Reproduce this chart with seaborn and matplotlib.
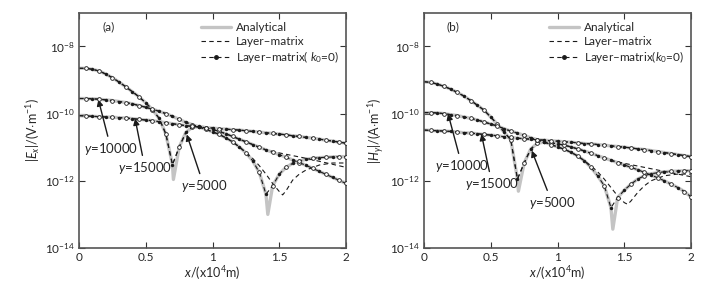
import numpy as np
import seaborn as sns
from matplotlib import pyplot as plt
from matplotlib.lines import Line2D

sns.set_theme(style='ticks')
plt.rcParams['font.family'] = ['Lato', 'DejaVu Sans']
plt.rcParams['mathtext.fontset'] = 'custom'
plt.rcParams['mathtext.rm'] = 'Lato'
plt.rcParams['mathtext.it'] = 'Lato:italic'
plt.rcParams['mathtext.bf'] = 'Lato:bold'

# x positions (x10^4 m), step 0.05
x_grid = np.linspace(0, 2, 41)

# log10 of |Ex| (panel a)
ex_y5000 = [-8.65, -8.65, -8.68, -8.73, -8.82, -8.93, -9.06, -9.2, -9.35, -9.5,
            -9.68, -9.88, -10.14, -10.6, -11.52, -11.0, -10.56, -10.4, -10.38, -10.42,
            -10.47, -10.53, -10.6, -10.68, -10.76, -10.84, -10.92, -11.0, -11.08, -11.15,
            -11.22, -11.3, -11.38, -11.46, -11.54, -11.63, -11.72, -11.81, -11.9, -11.99, -12.08]
ex_y10000 = [-9.55, -9.55, -9.56, -9.57, -9.59, -9.61, -9.64, -9.67, -9.71, -9.76,
             -9.81, -9.87, -9.93, -10.0, -10.08, -10.17, -10.26, -10.33, -10.4, -10.47,
             -10.54, -10.62, -10.72, -10.84, -10.99, -11.17, -11.4, -11.75, -12.4, -12.15,
             -11.8, -11.6, -11.48, -11.41, -11.36, -11.33, -11.31, -11.3, -11.29, -11.28, -11.28]
ex_y15000 = [-10.06, -10.07, -10.08, -10.09, -10.1, -10.11, -10.12, -10.13, -10.15, -10.17,
             -10.19, -10.21, -10.24, -10.27, -10.3, -10.33, -10.36, -10.38, -10.4, -10.42,
             -10.43, -10.45, -10.46, -10.48, -10.49, -10.51, -10.53, -10.55, -10.57, -10.59,
             -10.61, -10.63, -10.66, -10.68, -10.71, -10.73, -10.76, -10.79, -10.82, -10.85, -10.88]
# analytical minima
ex_dip_x = [0.707, 1.414]
ex_dip = [-11.96, -13.0]
# layer-matrix where it leaves the analytical curve
ex_lm5_x = [1.4, 1.5, 1.6, 1.7, 1.8, 1.9, 2.0]
ex_lm5 = [-11.08, -11.17, -11.25, -11.33, -11.42, -11.51, -11.6]
ex_lm10_x = [1.2, 1.25, 1.3, 1.35, 1.4, 1.45, 1.5, 1.525, 1.55, 1.6, 1.65, 1.7, 1.8, 1.9, 2.0]
ex_lm10 = [-10.99, -11.15, -11.33, -11.55, -11.8, -12.08, -12.32, -12.42, -12.3, -11.98,
           -11.8, -11.68, -11.53, -11.47, -11.47]

# log10 of |Hy| (panel b)
hy_y5000 = [-9.05, -9.07, -9.12, -9.19, -9.27, -9.37, -9.48, -9.61, -9.75, -9.9,
            -10.1, -10.32, -10.55, -10.78, -11.95, -11.47, -11.05, -10.88, -10.85, -10.87,
            -10.9, -10.94, -10.99, -11.05, -11.11, -11.18, -11.25, -11.32, -11.39, -11.46,
            -11.53, -11.6, -11.67, -11.75, -11.83, -11.91, -12.0, -12.1, -12.2, -12.32, -12.48]
hy_y10000 = [-9.97, -9.97, -9.98, -10.0, -10.03, -10.06, -10.1, -10.14, -10.19, -10.25,
             -10.31, -10.37, -10.45, -10.52, -10.58, -10.65, -10.72, -10.78, -10.85, -10.92,
             -10.99, -11.06, -11.15, -11.26, -11.4, -11.6, -11.85, -12.15, -12.8, -12.5,
             -12.28, -12.1, -11.95, -11.85, -11.79, -11.76, -11.73, -11.72, -11.71, -11.7, -11.7]
hy_y15000 = [-10.49, -10.5, -10.51, -10.52, -10.53, -10.55, -10.57, -10.58, -10.6, -10.62,
             -10.64, -10.66, -10.69, -10.71, -10.73, -10.75, -10.76, -10.78, -10.79, -10.81,
             -10.82, -10.84, -10.85, -10.87, -10.89, -10.9, -10.92, -10.94, -10.96, -10.98,
             -11.0, -11.02, -11.05, -11.07, -11.1, -11.13, -11.16, -11.19, -11.22, -11.25, -11.28]
hy_dip_x = [0.707, 1.414]
hy_dip = [-12.31, -13.44]
hy_lm5_x = [1.4, 1.5, 1.6, 1.7, 1.8, 1.9, 2.0]
hy_lm5 = [-11.39, -11.48, -11.56, -11.64, -11.72, -11.8, -11.88]
hy_lm10_x = [1.2, 1.25, 1.3, 1.35, 1.4, 1.45, 1.5, 1.525, 1.55, 1.6, 1.65, 1.7, 1.8, 1.9, 2.0]
hy_lm10 = [-11.4, -11.55, -11.73, -11.95, -12.2, -12.45, -12.65, -12.7, -12.6, -12.35,
           -12.15, -12.0, -11.85, -11.8, -11.8]

labels_y = ['$y$=10000', '$y$=15000', '$y$=5000']
# arrow heads / label spots, (x, log10 value)
ex_arrow_head = [(0.145, -9.58), (0.42, -10.15), (0.807, -10.62)]
ex_arrow_text = [(0.24, -11.05), (0.494, -11.62), (0.936, -12.16)]
hy_arrow_head = [(0.18, -10.0), (0.43, -10.61), (0.807, -11.1)]
hy_arrow_text = [(0.285, -11.56), (0.51, -12.1), (0.96, -12.66)]

GRAY = '#c4c4c4'


def draw_panel(ax, curves, dip_x, dip, lm_tails, heads, texts, ylab, tag, k0_label):
    xg = x_grid
    # analytical (grey, thick), with the sharp minima added
    for i, c in enumerate(curves):
        xs = list(xg)
        ys = list(c)
        if i < 2:
            xs.append(dip_x[i])
            ys.append(dip[i])
        order = np.argsort(xs)
        xs = np.array(xs)[order]
        ys = 10 ** np.array(ys)[order]
        sns.lineplot(x=xs, y=ys, ax=ax, color=GRAY, lw=2.4, sort=False,
                     estimator=None, solid_capstyle='butt')
    # layer-matrix (thin dashed)
    for i, c in enumerate(curves):
        if i < 2:
            tx, tv = lm_tails[i]
            head = xg < tx[0] - 1e-9
            xs = np.concatenate([xg[head], tx])
            ys = 10 ** np.concatenate([np.array(c)[head], tv])
        else:
            xs, ys = xg, 10 ** np.array(c)
        sns.lineplot(x=xs, y=ys, ax=ax, color='k', lw=0.8, linestyle=(0, (4, 3)),
                     sort=False, estimator=None)
    # layer-matrix k0=0 markers
    for c in curves:
        v = 10 ** np.array(c)
        sns.lineplot(x=xg, y=v, ax=ax, color='k', lw=0.8, linestyle=(0, (4, 3)),
                     sort=False, estimator=None)
        sns.scatterplot(x=xg[2:-1:2], y=v[2:-1:2], ax=ax, color='k', s=6,
                        linewidth=0, zorder=5)
        sns.scatterplot(x=np.append(xg[1::2], xg[-1]), y=np.append(v[1::2], v[-1]),
                        ax=ax, facecolor='white', edgecolor='k', s=7,
                        linewidth=0.6, zorder=6)

    for lab, h, t in zip(labels_y, heads, texts):
        ax.annotate(lab, xy=(h[0], 10 ** h[1]), xytext=(t[0], 10 ** t[1]),
                    ha='center', va='center', fontsize=9.5,
                    arrowprops=dict(arrowstyle='-|>', color='k', lw=1.0,
                                    mutation_scale=9, shrinkA=1, shrinkB=0))

    ax.set_yscale('log')
    ax.set_xlim(0, 2)
    ax.set_ylim(1e-14, 1e-7)
    ax.set_yticks([1e-14, 1e-12, 1e-10, 1e-8])
    ax.minorticks_off()
    ax.set_xticks([0, 0.5, 1, 1.5, 2])
    ax.set_xticklabels(['0', '0.5', '1', '1.5', '2'])
    ax.tick_params(direction='in', top=True, right=True, length=4, width=0.8,
                   labelsize=8.5, pad=3, color='#333333')
    for sp in ax.spines.values():
        sp.set_color('#555555')
        sp.set_linewidth(1.2)
    ax.set_xlabel('$x$/(x10$^4$m)', fontsize=9, labelpad=1)
    ax.set_ylabel(ylab, fontsize=9, labelpad=2)
    ax.text(0.11, 0.94, tag, transform=ax.transAxes, fontsize=8.5, ha='center', va='center')

    handles = [Line2D([], [], color=GRAY, lw=2.4),
               Line2D([], [], color='k', lw=0.8, linestyle=(0, (4, 3))),
               Line2D([], [], color='k', lw=0.8, linestyle=(0, (4, 3)), marker='o', ms=2.5)]
    ax.legend(handles, ['Analytical', 'Layer\u2013matrix', k0_label], loc='upper right',
              bbox_to_anchor=(1.0, 0.99), frameon=False, fontsize=8.5, handlelength=2.6,
              handletextpad=0.4, labelspacing=0.2, borderaxespad=0.2)


fig = plt.figure(figsize=(7.18, 2.86), dpi=100)
ax1 = fig.add_axes([0.110, 0.133, 0.372, 0.822])
ax2 = fig.add_axes([0.5905, 0.133, 0.372, 0.822])

draw_panel(ax1, [ex_y5000, ex_y10000, ex_y15000], ex_dip_x, ex_dip,
           [(ex_lm5_x, ex_lm5), (ex_lm10_x, ex_lm10)],
           ex_arrow_head, ex_arrow_text,
           r'$|E_x|$/(V$\cdot$m$^{-1}$)', '(a)', 'Layer\u2013matrix( $k_0$=0)')
draw_panel(ax2, [hy_y5000, hy_y10000, hy_y15000], hy_dip_x, hy_dip,
           [(hy_lm5_x, hy_lm5), (hy_lm10_x, hy_lm10)],
           hy_arrow_head, hy_arrow_text,
           r'$|H_y|$/(A$\cdot$m$^{-1}$)', '(b)', 'Layer\u2013matrix($k_0$=0)')

fig.savefig('out.png', dpi=100)
